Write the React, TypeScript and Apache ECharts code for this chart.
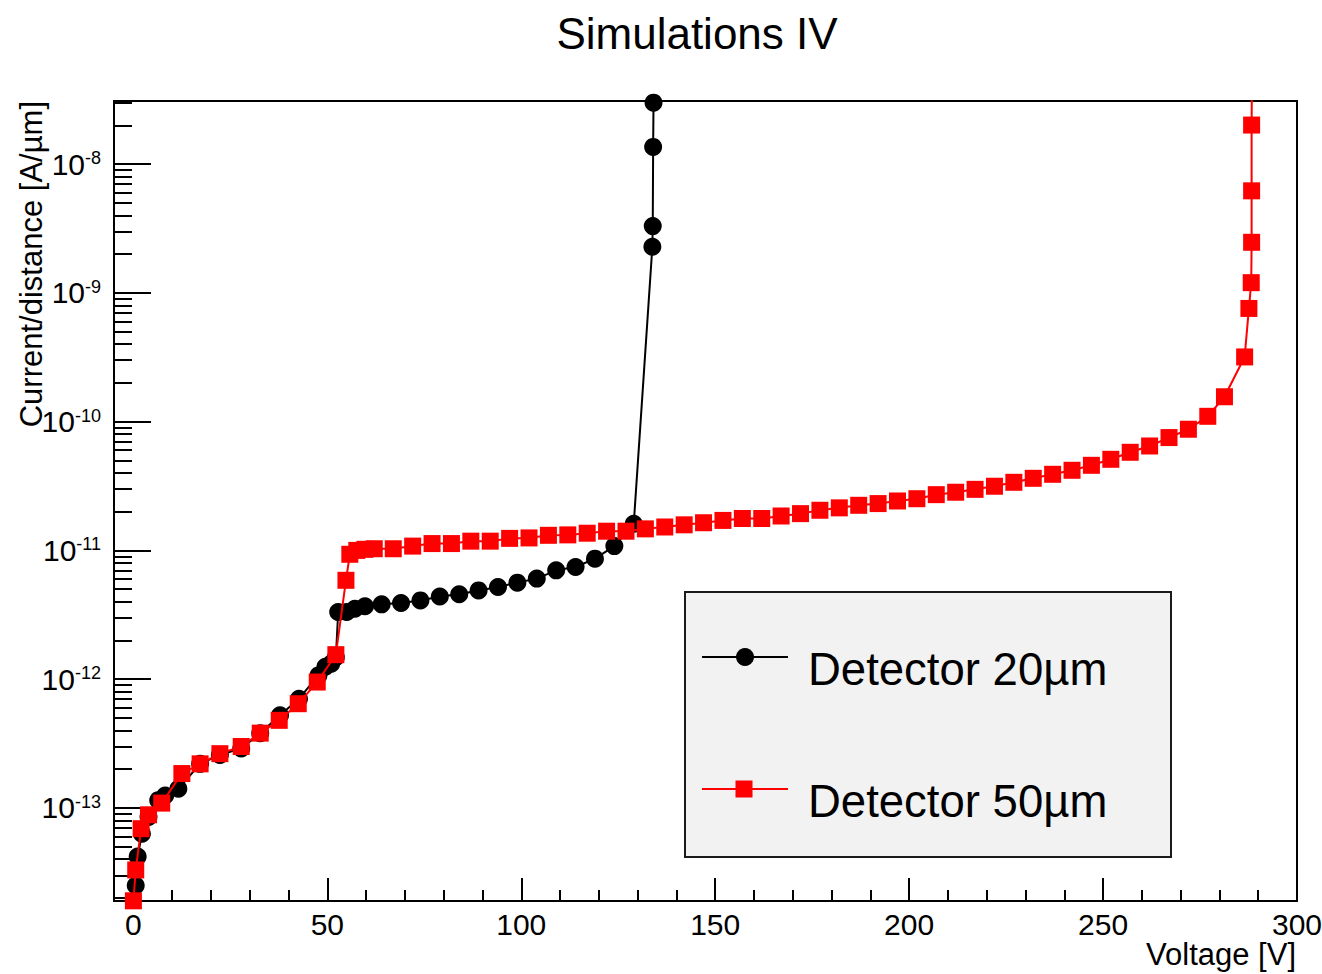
import React, { useEffect, useRef } from 'react';
import * as echarts from 'echarts';

const chartTitle = 'Simulations IV';
const xTitle = 'Voltage [V]';
const yTitle = 'Current/distance [A/µm]';
const seriesNames = ['Detector 20µm', 'Detector 50µm'];

const xMajorTicks = [0, 50, 100, 150, 200, 250, 300];
const xMinorTicks = [10, 20, 30, 40, 60, 70, 80, 90, 110, 120, 130, 140, 160, 170, 180, 190, 210, 220, 230, 240, 260, 270, 280, 290];
const yMajorTicks = [1e-13, 1e-12, 1e-11, 1e-10, 1e-9, 1e-8];
const yMinorDecades = [1e-14, 1e-13, 1e-12, 1e-11, 1e-10, 1e-9, 1e-8];
const yMinorMultipliers = [2, 3, 4, 5, 6, 7, 8, 9];
const yMinorTicks = yMinorDecades.flatMap((d) => yMinorMultipliers.map((m) => m * d));

// Detector 20 um (black circles)
const det20Voltage = [0.6, 1.1, 2.2, 3.9, 6.4, 8.2, 11.6, 17.2, 22.3, 27.8, 32.7, 37.8, 42.7, 47.7, 49.5, 51, 52.2, 52.8, 55, 57.1, 59.7, 64, 69, 74, 79, 84, 89, 94, 99, 104, 109, 114, 119, 124, 129, 133.8, 133.9, 134, 134.1];
const det20Current = [2.5e-14, 4.2e-14, 6.3e-14, 8.5e-14, 1.15e-13, 1.25e-13, 1.41e-13, 2.2e-13, 2.58e-13, 2.9e-13, 3.8e-13, 5.24e-13, 7.05e-13, 1.07e-12, 1.25e-12, 1.32e-12, 1.48e-12, 3.32e-12, 3.32e-12, 3.52e-12, 3.68e-12, 3.81e-12, 3.9e-12, 4.09e-12, 4.39e-12, 4.56e-12, 4.89e-12, 5.2e-12, 5.62e-12, 6.04e-12, 7.0e-12, 7.43e-12, 8.63e-12, 1.08e-11, 1.61e-11, 2.28e-9, 3.3e-9, 1.36e-8, 3.0e-8];

// Detector 50 um (red squares)
const det50Voltage = [0, 0.6, 2.0, 3.9, 7.3, 12.5, 17.2, 22.3, 27.8, 32.7, 37.6, 42.5, 47.4, 52.2, 54.8, 55.8, 57.6, 59.7, 62.1, 67, 72, 77, 82, 87, 92, 97, 102, 107, 112, 117, 122, 127, 132, 137, 142, 147, 152, 157, 162, 167, 172, 177, 182, 187, 192, 197, 202, 207, 212, 217, 222, 227, 232, 237, 242, 247, 252, 257, 262, 267, 272, 277, 281.3, 286.5, 287.6, 288.2, 288.3, 288.3, 288.3, 288.4];
const det50Current = [1.9e-14, 3.3e-14, 6.9e-14, 8.85e-14, 1.09e-13, 1.85e-13, 2.2e-13, 2.64e-13, 3.0e-13, 3.81e-13, 4.79e-13, 6.45e-13, 9.5e-13, 1.55e-12, 5.86e-12, 9.33e-12, 1.0e-11, 1.02e-11, 1.03e-11, 1.03e-11, 1.08e-11, 1.13e-11, 1.13e-11, 1.18e-11, 1.18e-11, 1.24e-11, 1.25e-11, 1.31e-11, 1.32e-11, 1.36e-11, 1.41e-11, 1.41e-11, 1.47e-11, 1.52e-11, 1.58e-11, 1.64e-11, 1.71e-11, 1.77e-11, 1.77e-11, 1.85e-11, 1.93e-11, 2.05e-11, 2.14e-11, 2.24e-11, 2.31e-11, 2.42e-11, 2.52e-11, 2.71e-11, 2.83e-11, 2.98e-11, 3.15e-11, 3.38e-11, 3.63e-11, 3.9e-11, 4.19e-11, 4.58e-11, 5.1e-11, 5.78e-11, 6.47e-11, 7.52e-11, 8.73e-11, 1.1e-10, 1.56e-10, 3.18e-10, 7.57e-10, 1.2e-9, 2.47e-9, 6.2e-9, 2.01e-8, 6.0e-8];

const FONT = '"Liberation Sans", Arial, Helvetica, sans-serif';

const zip = (xs: number[], ys: number[]) => xs.map((x, i) => [x, ys[i]]);

export default function App() {
  const ref = useRef<HTMLDivElement>(null);
  useEffect(() => {
    if (!ref.current) return;
    const chart = echarts.init(ref.current, null, { renderer: 'svg' });
    const tickLine = { color: '#000', width: 2 };
    const option: any = {
      animation: false,
      backgroundColor: '#fff',
      grid: {
        left: 114, top: 101, width: 1183, height: 800,
        show: true, borderColor: '#000', borderWidth: 2, backgroundColor: 'transparent',
        outerBoundsMode: 'none', containLabel: false,
      },
      xAxis: [
        {
          type: 'value', min: -5, max: 300, position: 'bottom',
          axisLine: { show: true, onZero: false, lineStyle: tickLine },
          axisTick: { show: true, inside: true, length: 23, customValues: xMajorTicks, lineStyle: tickLine },
          axisLabel: { show: true, customValues: xMajorTicks, fontSize: 30, color: '#000', fontFamily: FONT, margin: 8 },
          splitLine: { show: false },
        },
        {
          type: 'value', min: -5, max: 300, position: 'bottom',
          axisLine: { show: false, onZero: false },
          axisTick: { show: true, inside: true, length: 11, customValues: xMinorTicks, lineStyle: tickLine },
          axisLabel: { show: false },
          splitLine: { show: false },
        },
      ],
      yAxis: [
        {
          type: 'log', logBase: 10, min: 1.894e-14, max: 3.09e-8, position: 'left',
          axisLine: { show: true, onZero: false, lineStyle: tickLine },
          axisTick: { show: true, inside: true, length: 37, customValues: yMajorTicks, lineStyle: tickLine },
          axisLabel: {
            show: true, customValues: yMajorTicks, margin: 13,
            formatter: (v: number) => `{b|10}{s|${Math.round(Math.log10(v))}}`,
            rich: {
              b: { fontSize: 30, fontFamily: FONT, color: '#000', lineHeight: 30 },
              s: { fontSize: 18, fontFamily: FONT, color: '#000', verticalAlign: 'top' },
            },
          },
          splitLine: { show: false },
        },
        {
          type: 'log', logBase: 10, min: 1.894e-14, max: 3.09e-8, position: 'left',
          axisLine: { show: false, onZero: false },
          axisTick: { show: true, inside: true, length: 18, customValues: yMinorTicks, lineStyle: tickLine },
          axisLabel: { show: false },
          splitLine: { show: false },
        },
      ],
      series: [
        {
          type: 'line', name: seriesNames[0], xAxisIndex: 0, yAxisIndex: 0,
          data: zip(det20Voltage, det20Current),
          symbol: 'circle', symbolSize: 18, showAllSymbol: true,
          itemStyle: { color: '#000' }, lineStyle: { color: '#000', width: 2 },
          clip: true, z: 2,
        },
        {
          type: 'line', name: seriesNames[1], xAxisIndex: 0, yAxisIndex: 0,
          data: zip(det50Voltage, det50Current),
          symbol: 'rect', symbolSize: 17, showAllSymbol: true,
          itemStyle: { color: '#ff0000' }, lineStyle: { color: '#ff0000', width: 2 },
          clip: true, z: 3,
        },
      ],
      graphic: [
        { type: 'text', x: 697, y: 33, z: 100, style: { text: chartTitle, fontSize: 44, fontFamily: FONT, fill: '#000', align: 'center', verticalAlign: 'middle' } },
        { type: 'text', x: 1296, y: 954, z: 100, style: { text: xTitle, fontSize: 31, fontFamily: FONT, fill: '#000', align: 'right', verticalAlign: 'middle' } },
        { type: 'text', x: 31, y: 101, rotation: Math.PI / 2, z: 100, style: { text: yTitle, fontSize: 31, fontFamily: FONT, fill: '#000', align: 'right', verticalAlign: 'middle' } },
        { type: 'rect', z: 100, shape: { x: 685, y: 592, width: 486, height: 265 }, style: { fill: '#f2f2f2', stroke: '#1a1a1a', lineWidth: 2 } },
        { type: 'line', z: 101, shape: { x1: 702, y1: 657, x2: 788, y2: 657 }, style: { stroke: '#000', lineWidth: 2 } },
        { type: 'circle', z: 101, shape: { cx: 745, cy: 657, r: 9 }, style: { fill: '#000' } },
        { type: 'text', z: 101, x: 808, y: 669, style: { text: seriesNames[0], fontSize: 45.5, fontFamily: FONT, fill: '#000', align: 'left', verticalAlign: 'middle' } },
        { type: 'line', z: 101, shape: { x1: 702, y1: 789, x2: 788, y2: 789 }, style: { stroke: '#ff0000', lineWidth: 2 } },
        { type: 'rect', z: 101, shape: { x: 735.5, y: 780.5, width: 17, height: 17 }, style: { fill: '#ff0000' } },
        { type: 'text', z: 101, x: 808, y: 801, style: { text: seriesNames[1], fontSize: 45.5, fontFamily: FONT, fill: '#000', align: 'left', verticalAlign: 'middle' } },
      ],
    };
    chart.setOption(option);
    return () => chart.dispose();
  }, []);
  return <div ref={ref} style={{ position: 'fixed', left: 0, top: 0, width: 1322, height: 974, background: '#fff' }} />;
}
